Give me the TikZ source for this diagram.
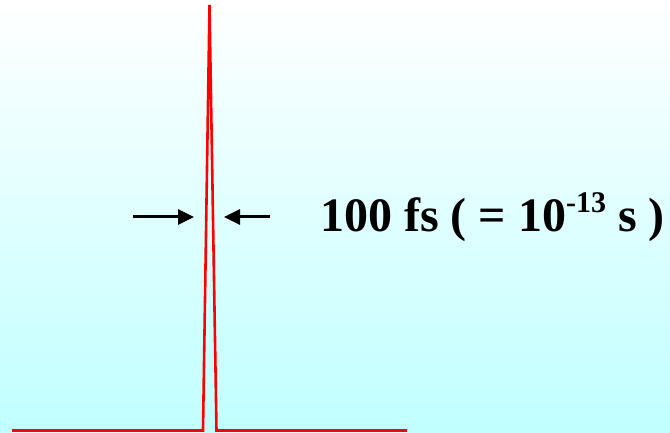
\documentclass[tikz,border=0pt]{standalone}
\usepackage{fontspec}
\setmainfont{Liberation Serif}
\usetikzlibrary{arrows.meta}
\definecolor{bgbot}{RGB}{192,255,255}
\definecolor{bgmid}{RGB}{236,255,255}
\definecolor{pulsered}{RGB}{255,0,0}
\tikzset{
  pulse/.style={draw=pulsered, line width=2.6pt, line join=miter},
  marker/.style={draw=black, line width=3pt, -{Triangle[length=16pt,width=15pt]}},
  lbl/.style={font=\fontsize{48}{54}\selectfont\bfseries, inner sep=0pt, anchor=west}
}
\begin{document}
\begin{tikzpicture}[x=1pt,y=1pt]
\shade[top color=white, middle color=bgmid, bottom color=bgbot] (0,0) rectangle (670,433);
\useasboundingbox (0,0) rectangle (670,433);
\coordinate (b0) at (12,2.5);
\coordinate (b1) at (203,2.5);
\coordinate (pk) at (209.5,428);
\coordinate (b2) at (216.5,2.5);
\coordinate (b3) at (407,2.5);
\draw[pulse] (b0) -- (b1) -- (pk) -- (b2) -- (b3);
\coordinate (la) at (133,216);
\coordinate (lb) at (194,216);
\coordinate (ra) at (270,216);
\coordinate (rb) at (224,216);
\draw[marker] (la) -- (lb);
\draw[marker] (ra) -- (rb);
\node[lbl] (t) at (320,216) {100 fs ( = 10\raisebox{0.4em}{\fontsize{30}{33}\selectfont -13} s )};
\end{tikzpicture}
\end{document}
